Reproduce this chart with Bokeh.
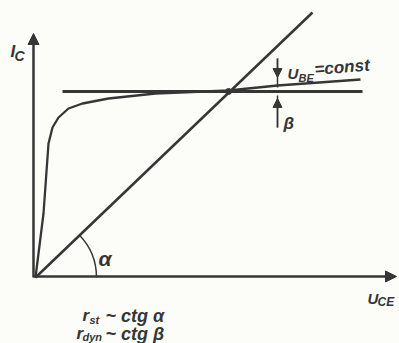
import math
from bokeh.plotting import figure
from bokeh.models import Range1d, Arrow, NormalHead
from bokeh.core.properties import value
from bokeh.embed import file_html
from bokeh.resources import INLINE

# ---- data (units: U_CE horizontal, I_C vertical, arbitrary) ----
curve_uce = [0, 8, 13, 17, 23, 33, 47, 73, 120, 193, 242, 325]
curve_ic = [0, 64, 134, 150, 160, 169, 174, 179, 184, 187, 192, 198]

diag_uce = [0, 277]
diag_ic = [0, 265]

tangent_uce = [27, 327]
tangent_ic = [186, 186]

op_uce = [193]
op_ic = [186]

axis_x_end = 361
axis_y_end = 244

INK = "#363636"
FONT = value("Liberation Sans")

p = figure(width=399, height=343, output_backend="svg", toolbar_location=None,
           x_range=Range1d(-35, 364), y_range=Range1d(-66, 277),
           min_border=0, background_fill_color="#fcfcf9", border_fill_color="#fcfcf9")
p.axis.visible = False
p.grid.visible = False
p.outline_line_color = None

# axes with arrows
p.add_layout(Arrow(x_start=-2, y_start=0, x_end=-2, y_end=axis_y_end,
                   line_color=INK, line_width=2.5,
                   end=NormalHead(size=11, fill_color=INK, line_color=INK)))
p.add_layout(Arrow(x_start=-2, y_start=1, x_end=axis_x_end, y_end=1,
                   line_color=INK, line_width=2.5,
                   end=NormalHead(size=11, fill_color=INK, line_color=INK)))

# diagonal (static resistance)
p.line(diag_uce, diag_ic, line_color=INK, line_width=2.5)
# tangent (dynamic resistance)
p.line(tangent_uce, tangent_ic, line_color=INK, line_width=3)
# characteristic curve
p.line(curve_uce, curve_ic, line_color=INK, line_width=2.3)
# operating point
p.scatter(op_uce, op_ic, size=6, color=INK)

# angle alpha arc
alpha = math.atan2(diag_ic[1] - diag_ic[0], diag_uce[1] - diag_uce[0])
p.arc(x=[0], y=[0], radius=61, start_angle=0, end_angle=alpha,
      line_color=INK, line_width=1.5)

# dimension arrows for beta
xb = 242
p.segment(x0=[xb, xb], y0=[219, 150], x1=[xb, xb], y1=[190, 182],
          line_color=INK, line_width=1.5)
p.add_layout(Arrow(x_start=xb, y_start=219, x_end=xb, y_end=200,
                   line_color=INK, line_width=1.5,
                   end=NormalHead(size=9, fill_color=INK, line_color=INK)))
p.add_layout(Arrow(x_start=xb, y_start=150, x_end=xb, y_end=179,
                   line_color=INK, line_width=1.5,
                   end=NormalHead(size=9, fill_color=INK, line_color=INK)))

def txt(x, y, s, size, angle=0.0, align="left"):
    p.text(x=[x], y=[y], text=[s], text_font=FONT, text_font_style="bold italic",
           text_font_size=f"{size}px", text_color=INK, text_align=align,
           text_baseline="alphabetic", angle=angle)

# I_C
txt(-25, 226, "I", 17)
txt(-21, 222, "C", 14)
# U_CE
txt(332, -21, "U", 15)
txt(342, -24, "CE", 12)
# U_BE = const
txt(252, 204, "U", 15)
txt(263, 200, "BE", 11)
txt(279, 208, "=const", 17, angle=0.08)
# beta
txt(248, 154, "β", 17)
# alpha
txt(63, 19, "α", 21)
# formulas
txt(47, -38, "r", 17)
txt(54, -42, "st", 11)
txt(70, -38, "~ ctg α", 18)
txt(41, -56, "r", 17)
txt(47, -59, "dyn", 11)
txt(70, -56, "~ ctg β", 18)

open("out.html", "w").write(file_html(p, INLINE))
